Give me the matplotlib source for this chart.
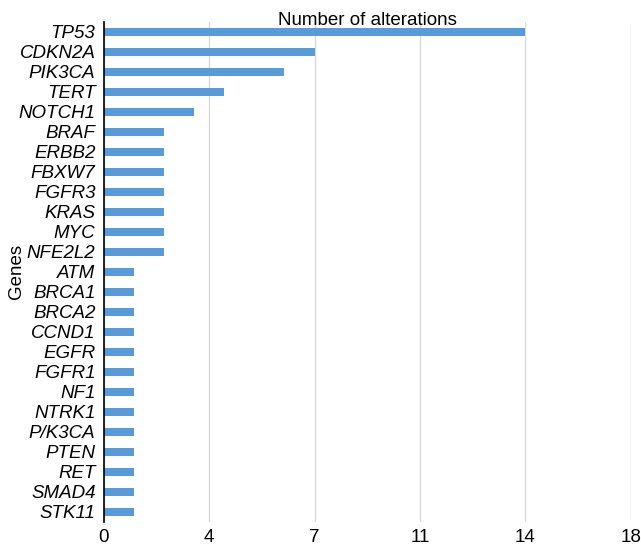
import numpy as np
import matplotlib.pyplot as plt

plt.rcParams['font.family'] = ['Liberation Sans', 'DejaVu Sans']

genes = ['TP53', 'CDKN2A', 'PIK3CA', 'TERT', 'NOTCH1', 'BRAF', 'ERBB2', 'FBXW7',
         'FGFR3', 'KRAS', 'MYC', 'NFE2L2', 'ATM', 'BRCA1', 'BRCA2', 'CCND1',
         'EGFR', 'FGFR1', 'NF1', 'NTRK1', 'P/K3CA', 'PTEN', 'RET', 'SMAD4', 'STK11']
counts = [14, 7, 6, 4, 3, 2, 2, 2, 2, 2, 2, 2, 1, 1, 1, 1, 1, 1, 1, 1, 1, 1, 1, 1, 1]
tick_vals = [0, 3.5, 7, 10.5, 14, 17.5]
tick_labels = ['0', '4', '7', '11', '14', '18']

fig = plt.figure(figsize=(6.41, 5.46), dpi=100)
ax = fig.add_axes([0.162, 0.044, 0.822, 0.916])

fs = 13.5
y = np.arange(len(genes))
ax.barh(y, counts, height=0.37, color='#5B9BD5', zorder=3)
ax.set_ylim(len(genes) - 0.5, -0.5)
ax.set_xlim(0, 17.5)
ax.set_yticks(y)
ax.set_yticklabels(genes, fontstyle='italic', fontsize=fs)
ax.set_xticks(tick_vals)
ax.set_xticklabels(tick_labels, fontsize=fs)
ax.tick_params(axis='x', length=0, pad=5)
ax.tick_params(axis='y', length=0, pad=6)
ax.xaxis.grid(True, color='#D9D9D9', linewidth=1)
ax.yaxis.grid(False)
for s in ['top', 'right', 'bottom']:
    ax.spines[s].set_visible(False)
ax.spines['left'].set_color('black')
ax.spines['left'].set_linewidth(1.2)
ax.spines['left'].set_zorder(4)

ax.set_ylabel('Genes', fontsize=fs)
ax.yaxis.set_label_coords(-0.15, 0.5)
ax.text(0.5, 1.003, 'Number of alterations', transform=ax.transAxes,
        ha='center', va='center', fontsize=fs)

fig.savefig('out.png', dpi=100)
